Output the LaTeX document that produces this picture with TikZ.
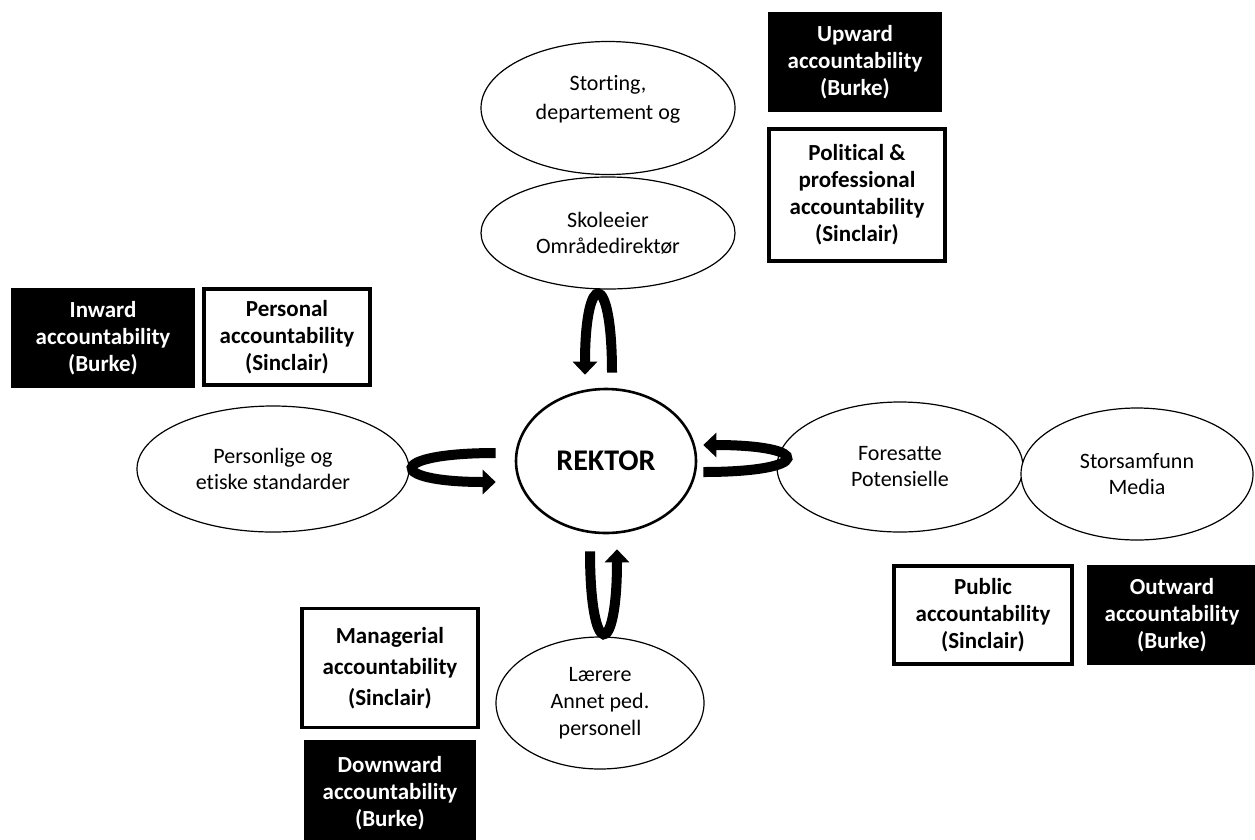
\documentclass[tikz,border=0pt]{standalone}
\usepackage{fontspec}
\setmainfont{Carlito}[Ligatures=NoCommon]
\usetikzlibrary{positioning, calc, shapes.geometric, arrows.meta}
\tikzset{
	ellnode/.style={
			ellipse,
			draw=black,
			line width=1.2pt,
			fill=white,
			inner sep=-30pt,
			align=center,
			font=\fontsize{22}{26}\selectfont
		},
	rektornode/.style={
			ellnode,
			line width=2.6pt,
			font=\fontsize{30}{32}\selectfont\bfseries
		},
	sinclairbox/.style={
			rectangle,
			draw=black,
			line width=3.5pt,
			fill=white,
			inner sep=0pt,
			align=center,
			font=\fontsize{23}{27}\selectfont\bfseries
		},
	burkebox/.style={
			sinclairbox,
			draw=none,
			fill=black,
			text=white
		},
	uturn/.style={
			draw=black,
			line width=10pt,
			-{Triangle[width=24pt,length=13pt]}
		}
}

\begin{document}
\begin{tikzpicture}[x=1pt, y=-1pt]
\useasboundingbox (0,0) rectangle (1255,839);

% ellipses
\node[ellnode, minimum width=254pt, minimum height=133pt, font=\fontsize{22}{29}\selectfont] (storting) at (608,108) {Storting,\\departement og\\[-8pt]\mbox{}};
\node[ellnode, minimum width=254pt, minimum height=112pt] (skoleeier) at (608,233) {Skoleeier\\Områdedirektør};
\node[ellnode, minimum width=272pt, minimum height=126pt] (personlige) at (273,469) {Personlige og\\etiske standarder};
\node[rektornode, minimum width=180pt, minimum height=144pt] (rektor) at (606,461) {REKTOR};
\node[ellnode, minimum width=246pt, minimum height=130pt] (foresatte) at (900,467) {Foresatte\\Potensielle};
\node[ellnode, minimum width=232pt, minimum height=132pt] (storsamfunn) at (1137,474) {Storsamfunn\\Media};
\node[ellnode, minimum width=208pt, minimum height=132pt, font=\fontsize{22}{27}\selectfont] (laerere) at (600,703) {Lærere\\Annet ped.\\personell};

% boxes
\node[burkebox, minimum width=174pt, minimum height=100pt] (upward) at (855,62) {Upward\\accountability\\(Burke)};
\node[sinclairbox, minimum width=176pt, minimum height=132pt] (political) at (857,195) {Political \&\\professional\\accountability\\(Sinclair)};
\node[burkebox, minimum width=184pt, minimum height=100pt] (inward) at (103,338) {Inward\\accountability\\(Burke)};
\node[sinclairbox, minimum width=166pt, minimum height=96pt] (personal) at (287,337) {Personal\\accountability\\(Sinclair)};
\node[sinclairbox, minimum width=178pt, minimum height=98pt] (public) at (983,615) {Public\\accountability\\(Sinclair)};
\node[burkebox, minimum width=170pt, minimum height=100pt] (outward) at (1172,615) {Outward\\accountability\\(Burke)};
\node[sinclairbox, minimum width=176pt, minimum height=119pt, font=\fontsize{23}{31}\selectfont\bfseries] (managerial) at (390,668) {Managerial\\accountability\\(Sinclair)};
\node[burkebox, minimum width=172pt, minimum height=106pt] (downward) at (390,793) {Downward\\accountability\\(Burke)};

% u-turn arrows round rektor
\coordinate (upS) at ($(rektor.north)+(6,-15)$);
\coordinate (upE) at ($(rektor.north)+(-21,-13)$);
\coordinate (leftS) at ($(rektor.west)+(-19,-8)$);
\coordinate (leftE) at ($(rektor.west)+(-19,21)$);
\coordinate (rightS) at ($(rektor.east)+(6,11)$);
\coordinate (rightE) at ($(rektor.east)+(6,-16)$);
\coordinate (downS) at ($(rektor.south)+(-16,17)$);
\coordinate (downE) at ($(rektor.south)+(11,15)$);

\draw[uturn] (upS) .. controls +(0,-105) and +(0,-105) .. (upE);
\draw[uturn] (leftS) .. controls +(-110,0) and +(-110,0) .. (leftE);
\draw[uturn] (rightS) .. controls +(110,0) and +(110,0) .. (rightE);
\draw[uturn] (downS) .. controls +(0,110) and +(0,110) .. (downE);

\end{tikzpicture}
\end{document}
